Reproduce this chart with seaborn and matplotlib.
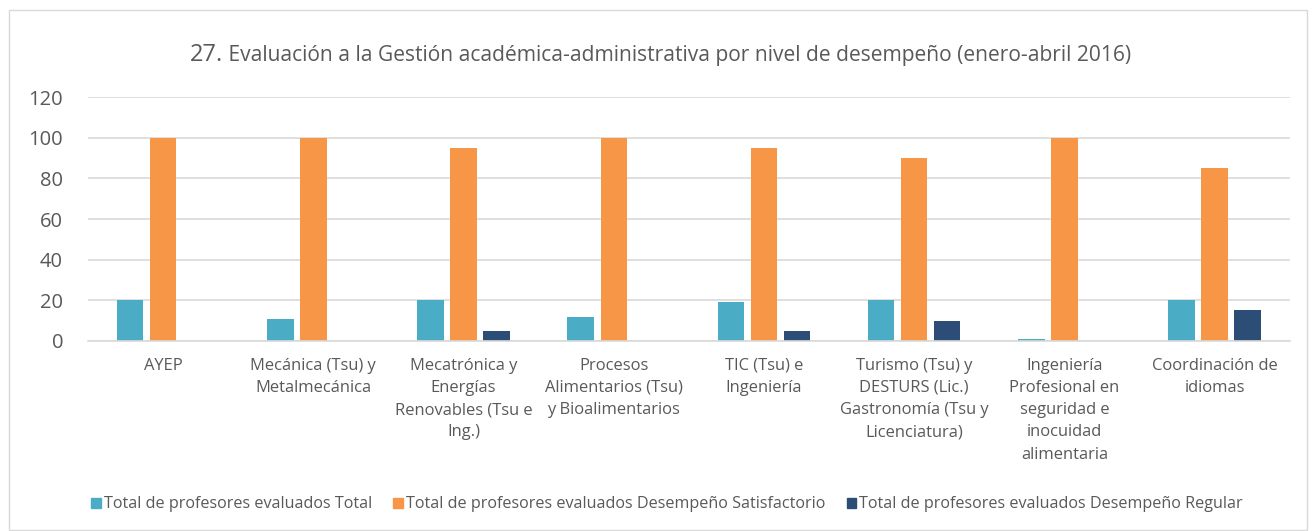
import pandas as pd
import matplotlib
matplotlib.use("Agg")
import matplotlib.pyplot as plt
from matplotlib.patches import Rectangle
import seaborn as sns

# -------------------------
# Data
# -------------------------
categorias = [
    "AYEP",
    "Mecánica (Tsu) y\nMetalmecánica",
    "Mecatrónica y\nEnergías\nRenovables (Tsu e\nIng.)",
    "Procesos\nAlimentarios (Tsu)\ny Bioalimentarios",
    "TIC (Tsu) e\nIngeniería",
    "Turismo (Tsu) y\nDESTURS (Lic.)\nGastronomía (Tsu y\nLicenciatura)",
    "Ingeniería\nProfesional en\nseguridad e\ninocuidad\nalimentaria",
    "Coordinación de\nidiomas",
]
series = [
    "Total de profesores evaluados Total",
    "Total de profesores evaluados Desempeño Satisfactorio",
    "Total de profesores evaluados Desempeño Regular",
]
total = [20, 11, 20, 12, 19, 20, 1, 20]
satisfactorio = [100, 100, 95, 100, 95, 90, 100, 85]
regular = [0, 0, 5, 0, 5, 10, 0, 15]
colores = ["#4BACC6", "#F79646", "#2C4D75"]

df = pd.DataFrame({
    "categoria": categorias * 3,
    "serie": [series[0]] * 8 + [series[1]] * 8 + [series[2]] * 8,
    "valor": total + satisfactorio + regular,
})

# -------------------------
# Plot
# -------------------------
sns.set_style("white")
plt.rcParams["font.family"] = ["Open Sans", "DejaVu Sans"]
text_col = "#595959"
grid_col = "#D9D9D9"

fig = plt.figure(figsize=(13.16, 5.31), dpi=100)
ax = fig.add_axes([0.0669, 0.358, 0.9131, 0.459])

sns.barplot(
    data=df, x="categoria", y="valor", hue="serie",
    palette=colores, saturation=1, width=0.66, gap=0.2, linewidth=0,
    order=categorias, hue_order=series, ax=ax,
)

ax.set_ylim(0, 120)
ax.set_yticks(range(0, 121, 20))
ax.set_xlim(-0.5, 7.5)
ax.yaxis.grid(True, color=grid_col, linewidth=1.2)
ax.set_axisbelow(True)
for s in ["top", "right", "left"]:
    ax.spines[s].set_visible(False)
ax.spines["bottom"].set_color(grid_col)
ax.spines["bottom"].set_linewidth(1.2)
ax.set_xlabel("")
ax.set_ylabel("")
ax.tick_params(axis="y", length=0, pad=18, labelsize=14.5, labelcolor=text_col)
ax.tick_params(axis="x", length=0, pad=12, labelsize=11.9, labelcolor=text_col)
for lbl in ax.get_xticklabels():
    lbl.set_linespacing(1.52)
    lbl.set_va("top")

ax.get_legend().remove()
handles = [Rectangle((0, 0), 1, 1, color=c) for c in colores]
fig.legend(
    handles, series, loc="center", bbox_to_anchor=(0.507, 0.05),
    ncol=3, frameon=False, fontsize=11.6, labelcolor=text_col,
    handlelength=0.6, handleheight=0.6, handletextpad=0.2,
    columnspacing=1.3,
)

# title: number slightly larger than the rest
t1 = fig.text(0.1444, 0.897, "27.", fontsize=17, color=text_col,
              ha="left", va="center")
ax.annotate(
    " Evaluación a la Gestión académica-administrativa por nivel de desempeño (enero-abril 2016)",
    xy=(1, 0), xycoords=t1, xytext=(0, 0.5), textcoords="offset points",
    fontsize=15.1, color=text_col, ha="left", va="bottom",
    annotation_clip=False,
)

# outer chart border
fig.patches.append(Rectangle((0.007, 0.002), 0.986, 0.979, transform=fig.transFigure,
                             fill=False, edgecolor=grid_col, linewidth=1))

fig.savefig("out.png", dpi=100)
